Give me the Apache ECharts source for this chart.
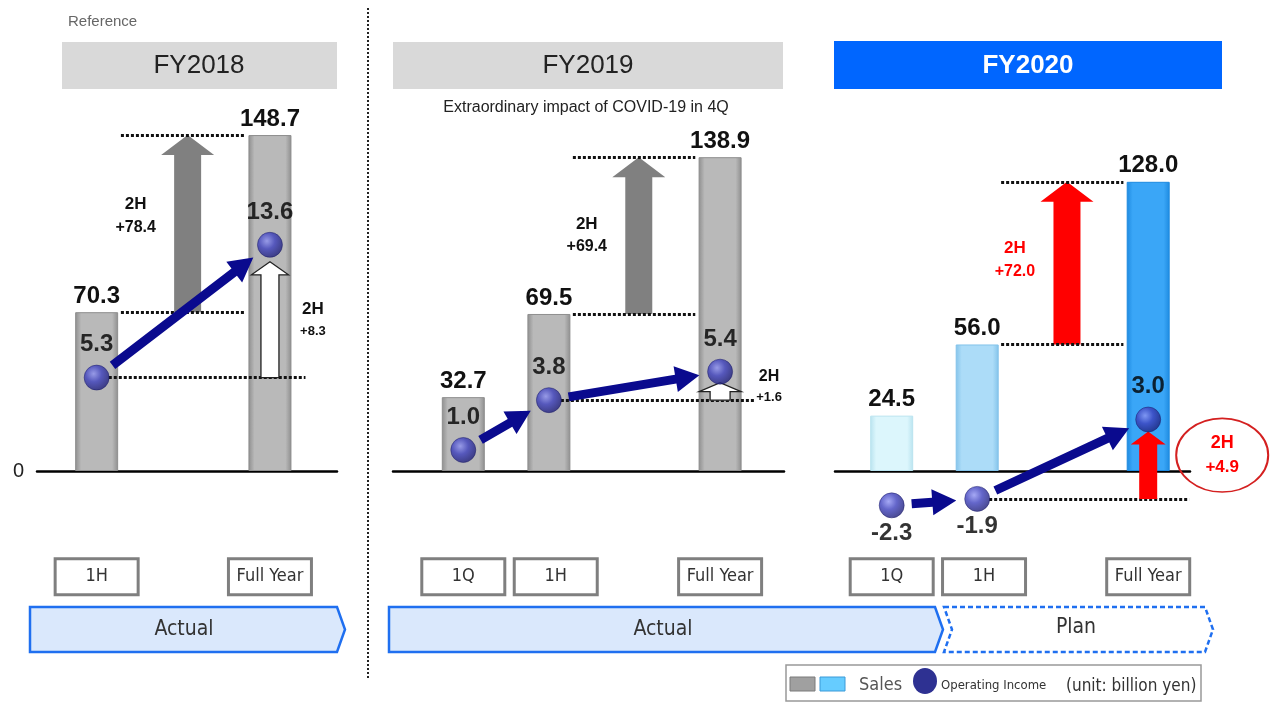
<!DOCTYPE html>
<html>
<head>
<meta charset="utf-8">
<script src="https://cdn.jsdelivr.net/npm/echarts@6/dist/echarts.min.js"></script>
<style>
  html, body { margin: 0; padding: 0; background: #fff; }
  #chart { width: 1274px; height: 703px; }
</style>
</head>
<body>
<div id="chart"></div>
<script>
// x position in each panel: 0 = 1Q, 1 = 1H, 2 = 2H (arrow slot), 3 = Full Year
const periodLabels = ['1Q', '1H', '2H', 'Full Year'];
const years = ['FY2018', 'FY2019', 'FY2020'];

// Sales (billion yen) [position, value]
const sales2018 = [[1, 70.3], [3, 148.7]];
const sales2019 = [[0, 32.7], [1, 69.5], [3, 138.9]];
const sales2020 = [[0, 24.5], [1, 56.0], [3, 128.0]];

// Operating income (billion yen) [position, value]
const income2018 = [[1, 5.3], [3, 13.6]];
const income2019 = [[0, 1.0], [1, 3.8], [3, 5.4]];
const income2020 = [[0, -2.3], [1, -1.9], [3, 3.0]];

// 2H increments shown next to the arrows
const salesIncrease = ['+78.4', '+69.4', '+72.0'];
const incomeIncrease = ['+8.3', '+1.6', '+4.9'];

const salesTicks = [0];

const sales = [sales2018, sales2019, sales2020];
const income = [income2018, income2019, income2020];

const FONT = "'Liberation Sans', Arial, sans-serif";
const NARROW = "'Liberation Sans Narrow', 'DejaVu Sans Condensed', 'Liberation Sans', sans-serif";

// layout of the three panels (pixels)
const GRID_TOP = 109.5, GRID_H = 406.7;
const layout = [
  { left: 37, right: 337, origin: 10, unit: 86.65, opZero: 462.4, opPx: 16.0 },
  { left: 393, right: 784, origin: 463.3, unit: 85.6, opZero: 467.8, opPx: 17.8 },
  { left: 835, right: 1190, origin: 891.7, unit: 85.5, opZero: 468.1, opPx: 16.2 }
];

// look of each panel
const looks = [
  {
    bars: [['#8e8e8e', '#b9b9b9'], ['#8e8e8e', '#b9b9b9']],
    salesArrow: '#808080', salesText: '#111',
    opArrow: { fill: '#fff', stroke: '#222', shaft: 18, head: 37, headLen: 13, gap: 17 },
    opText: { dx: 43, dy: 0, color: '#111', a: 17, b: 13 },
    salesLabel: { dy: -8 }
  },
  {
    bars: [['#8e8e8e', '#b9b9b9'], ['#8e8e8e', '#b9b9b9'], ['#8e8e8e', '#b9b9b9']],
    salesArrow: '#808080', salesText: '#111',
    opArrow: { fill: '#fff', stroke: '#222', shaft: 20, head: 42, headLen: 9, gap: 11 },
    opText: { dx: 49, dy: -5, color: '#111', a: 16, b: 13 },
    salesLabel: { dy: 0 }
  },
  {
    bars: [['#b9e3ef', '#dcf6fc'], ['#83c3ea', '#acdcf8'], ['#1d8ae0', '#3aa6f7']],
    salesArrow: '#ff0000', salesText: '#ff0000',
    opArrow: { fill: '#ff0000', stroke: null, shaft: 18, head: 35, headLen: 13, gap: 12 },
    opText: { dx: 74, dy: -10, color: '#ff0000', a: 18, b: 17, ring: true },
    salesLabel: { dy: -3 }
  }
];

function barFill(edge, mid) {
  return {
    type: 'linear', x: 0, y: 0, x2: 1, y2: 0,
    colorStops: [
      { offset: 0, color: edge },
      { offset: 0.14, color: mid },
      { offset: 0.86, color: mid },
      { offset: 1, color: edge }
    ]
  };
}

const dotFill = {
  type: 'radial', x: 0.38, y: 0.35, r: 0.7,
  colorStops: [
    { offset: 0, color: '#8f93f2' },
    { offset: 0.45, color: '#3d40bd' },
    { offset: 1, color: '#1b1b72' }
  ]
};

function valueAt(arr, pos) {
  const d = arr.find(function (x) { return x[0] === pos; });
  return d ? d[1] : null;
}

// block up arrow drawn from value(1) to value(2) at position value(0)
function upArrow(api, o, gapTop) {
  const base = api.coord([api.value(0), api.value(1)]);
  const tip = api.coord([api.value(0), api.value(2)]);
  const x = base[0], y0 = base[1], y1 = tip[1] + (gapTop || 0);
  const s = o.shaft / 2, h = o.head / 2, hy = y1 + o.headLen;
  return {
    type: 'polygon',
    shape: { points: [[x - s, y0], [x - s, hy], [x - h, hy], [x, y1], [x + h, hy], [x + s, hy], [x + s, y0]] },
    style: { fill: o.fill, stroke: o.stroke || null, lineWidth: o.stroke ? 1.3 : 0 }
  };
}

function twoLine(x, y, color, a, b, val) {
  return {
    type: 'text', x: x, y: y,
    style: {
      text: '{a|2H}\n{b|' + val + '}',
      align: 'center', verticalAlign: 'middle',
      rich: {
        a: { fontFamily: FONT, fontWeight: 'bold', fontSize: a, fill: color, lineHeight: a + 6 },
        b: { fontFamily: FONT, fontWeight: 'bold', fontSize: b, fill: color, lineHeight: b + 7 }
      }
    }
  };
}

const grids = [], xAxes = [], yAxes = [], series = [];

layout.forEach(function (L, p) {
  const look = looks[p];
  grids.push({ left: L.left, top: GRID_TOP, width: L.right - L.left, height: GRID_H, outerBoundsMode: 'none' });

  // period boxes under the bars; 1H box sits a little right when a 1Q box is next to it
  const positions = sales[p].map(function (d) { return d[0]; });
  const boxAt = positions.map(function (x) { return (x === 1 && positions.indexOf(0) >= 0) ? 1.08 : x; });

  xAxes.push({
    type: 'value', gridIndex: p,
    min: (L.left - L.origin) / L.unit, max: (L.right - L.origin) / L.unit,
    axisLine: { show: true, onZero: true, lineStyle: { color: '#000', width: 2.5 } },
    axisTick: { show: false },
    splitLine: { show: false },
    axisLabel: {
      show: true,
      customValues: boxAt,
      hideOverlap: false,
      showMinLabel: true, showMaxLabel: true,
      formatter: function (v) { return periodLabels[Math.round(v)]; },
      margin: 44,
      width: 80, height: 33, lineHeight: 33,
      backgroundColor: '#fff', borderColor: '#7f7f7f', borderWidth: 3,
      fontFamily: NARROW, fontSize: 18, color: '#333',
      align: 'center', verticalAlign: 'top'
    }
  });

  // sales axis
  yAxes.push({
    type: 'value', gridIndex: p, min: -20, max: 160,
    show: p === 0,
    axisLine: { show: false }, axisTick: { show: false }, splitLine: { show: false },
    axisLabel: { show: p === 0, customValues: salesTicks, margin: 13, fontSize: 20, color: '#222', fontFamily: FONT }
  });
  // operating income axis
  yAxes.push({
    type: 'value', gridIndex: p,
    min: -(GRID_TOP + GRID_H - L.opZero) / L.opPx,
    max: (L.opZero - GRID_TOP) / L.opPx,
    show: false, splitLine: { show: false }
  });

  const sIdx = 2 * p, oIdx = 2 * p + 1;
  const s1H = valueAt(sales[p], 1), sFY = valueAt(sales[p], 3);
  const o1H = valueAt(income[p], 1), oFY = valueAt(income[p], 3);

  // sales bars
  series.push({
    type: 'bar', name: 'Sales', xAxisIndex: p, yAxisIndex: sIdx,
    barWidth: 43, z: 2,
    data: sales[p].map(function (d, i) {
      return {
        value: d,
        itemStyle: { color: barFill(look.bars[i][0], look.bars[i][1]), borderColor: look.bars[i][0], borderWidth: 1 }
      };
    }),
    label: {
      show: true, position: 'top', distance: 4,
      formatter: function (prm) { return prm.value[1].toFixed(1); },
      fontFamily: FONT, fontWeight: 'bold', fontSize: 24, color: '#111'
    },
    markLine: {
      silent: true, symbol: ['none', 'none'], z: 3,
      label: { show: false },
      lineStyle: { color: '#111', type: [3, 2], width: 3 },
      data: [
        [{ coord: [1.28, s1H] }, { coord: [2.71, s1H] }],
        [{ coord: [1.28, sFY] }, { coord: [2.71, sFY] }]
      ]
    }
  });

  // 2H sales arrow
  series.push({
    type: 'custom', xAxisIndex: p, yAxisIndex: sIdx, z: 2,
    data: [[2.05, s1H, sFY]],
    renderItem: function (params, api) {
      const a = upArrow(api, { fill: look.salesArrow, shaft: 27, head: 53, headLen: 20 }, 0);
      const base = api.coord([api.value(0), api.value(1)]);
      const tip = api.coord([api.value(0), api.value(2)]);
      const mid = (base[1] + tip[1]) / 2 + look.salesLabel.dy;
      return {
        type: 'group',
        children: [a, twoLine(base[0] - 52, mid, look.salesText, 17, 16, salesIncrease[p])]
      };
    }
  });

  // 2H operating income arrow
  series.push({
    type: 'custom', xAxisIndex: p, yAxisIndex: oIdx, z: 4,
    data: [[3, o1H, oFY]],
    renderItem: function (params, api) {
      const o = look.opArrow, t = look.opText;
      const base = api.coord([api.value(0), api.value(1)]);
      const tip = api.coord([api.value(0), api.value(2)]);
      const mid = (base[1] + tip[1] + o.gap) / 2 + t.dy;
      const kids = [upArrow(api, o, o.gap), twoLine(base[0] + t.dx, mid, t.color, t.a, t.b, incomeIncrease[p])];
      if (t.ring) {
        kids.push({
          type: 'circle', x: base[0] + t.dx, y: mid, scaleY: 0.8,
          shape: { cx: 0, cy: 0, r: 46 },
          style: { fill: 'none', stroke: '#d42020', lineWidth: 2 }
        });
      }
      return { type: 'group', children: kids };
    }
  });

  // connecting arrows between operating income points
  const links = [];
  for (let i = 0; i < income[p].length - 1; i++) {
    links.push([income[p][i][0], income[p][i][1], income[p][i + 1][0], income[p][i + 1][1]]);
  }
  series.push({
    type: 'custom', xAxisIndex: p, yAxisIndex: oIdx, z: 5,
    data: links,
    renderItem: function (params, api) {
      const a = api.coord([api.value(0), api.value(1)]);
      const b = api.coord([api.value(2), api.value(3)]);
      const dx = b[0] - a[0], dy = b[1] - a[1];
      const len = Math.sqrt(dx * dx + dy * dy);
      const ux = dx / len, uy = dy / len, nx = -uy, ny = ux;
      const sx = a[0] + ux * 20, sy = a[1] + uy * 20;
      const tx = b[0] - ux * 21, ty = b[1] - uy * 21;
      const hx = tx - ux * 24, hy = ty - uy * 24;
      const w = 4.5, hw = 13;
      return {
        type: 'polygon',
        shape: {
          points: [
            [sx + nx * w, sy + ny * w], [hx + nx * w, hy + ny * w], [hx + nx * hw, hy + ny * hw],
            [tx, ty],
            [hx - nx * hw, hy - ny * hw], [hx - nx * w, hy - ny * w], [sx - nx * w, sy - ny * w]
          ]
        },
        style: { fill: '#0a0a8e' }
      };
    }
  });

  // operating income points
  series.push({
    type: 'scatter', name: 'Operating Income', xAxisIndex: p, yAxisIndex: oIdx,
    symbolSize: 25, z: 6, clip: false,
    itemStyle: { color: dotFill, borderColor: '#1a1a66', borderWidth: 0.6 },
    data: income[p].map(function (d) {
      return {
        value: d,
        label: d[1] < 0 ? { position: 'bottom', distance: 3 } : { position: 'top', distance: 8 }
      };
    }),
    label: {
      show: true,
      formatter: function (prm) { return prm.value[1].toFixed(1); },
      fontFamily: FONT, fontWeight: 'bold', fontSize: 24, color: '#000'
    },
    markLine: {
      silent: true, symbol: ['none', 'none'], z: 3,
      label: { show: false },
      lineStyle: { color: '#111', type: [3, 2], width: 3 },
      data: [[{ coord: [1.14, o1H] }, { coord: [p === 2 ? 3.48 : 3.41, o1H] }]]
    }
  });
});

// decoration: headers, period bands, legend
function chevron(x0, x1, notch) {
  const y0 = 607, y1 = 652, ym = 629.5;
  const pts = [[x0, y0], [x1 - 8, y0], [x1, ym], [x1 - 8, y1], [x0, y1]];
  if (notch) pts.push([x0 + 8, ym]);
  return pts;
}

const graphics = [
  { type: 'text', left: 68, top: 14, style: { text: 'Reference', font: '15px ' + FONT, fill: '#666' } },
  { type: 'line', shape: { x1: 368, y1: 8, x2: 368, y2: 680 }, style: { stroke: '#222', lineWidth: 2, lineDash: [2, 2] } },

  { type: 'rect', shape: { x: 62, y: 42, width: 275, height: 47 }, style: { fill: '#d9d9d9' } },
  { type: 'text', x: 199, y: 66, style: { text: years[0], font: '26px ' + FONT, fill: '#222', align: 'center', verticalAlign: 'middle' } },
  { type: 'rect', shape: { x: 393, y: 42, width: 390, height: 47 }, style: { fill: '#d9d9d9' } },
  { type: 'text', x: 588, y: 66, style: { text: years[1], font: '26px ' + FONT, fill: '#222', align: 'center', verticalAlign: 'middle' } },
  { type: 'rect', shape: { x: 834, y: 41, width: 388, height: 48 }, style: { fill: '#0066ff' } },
  { type: 'text', x: 1028, y: 66, style: { text: years[2], font: 'bold 26px ' + FONT, fill: '#fff', align: 'center', verticalAlign: 'middle' } },
  { type: 'text', x: 586, y: 108, style: { text: 'Extraordinary impact of COVID-19 in 4Q', font: '16px ' + FONT, fill: '#222', align: 'center', verticalAlign: 'middle' } },

  { type: 'polygon', shape: { points: chevron(30, 345, false) }, style: { fill: '#dae8fc', stroke: '#1f6ff0', lineWidth: 2.5 } },
  { type: 'text', x: 184, y: 630, style: { text: 'Actual', font: '21px ' + NARROW, fill: '#333', align: 'center', verticalAlign: 'middle' } },
  { type: 'polygon', shape: { points: chevron(389, 943, false) }, style: { fill: '#dae8fc', stroke: '#1f6ff0', lineWidth: 2.5 } },
  { type: 'text', x: 663, y: 630, style: { text: 'Actual', font: '21px ' + NARROW, fill: '#333', align: 'center', verticalAlign: 'middle' } },
  { type: 'polygon', shape: { points: chevron(944, 1213, true) }, style: { fill: '#fff', stroke: '#1f6ff0', lineWidth: 2.5, lineDash: [5, 3] } },
  { type: 'text', x: 1076, y: 628, style: { text: 'Plan', font: '21px ' + NARROW, fill: '#333', align: 'center', verticalAlign: 'middle' } },

  { type: 'rect', shape: { x: 786, y: 665, width: 415, height: 36 }, style: { fill: '#fff', stroke: '#999', lineWidth: 1.5 } },
  { type: 'rect', shape: { x: 790, y: 677, width: 25, height: 14 }, style: { fill: '#a0a0a0', stroke: '#7a7a7a', lineWidth: 1 } },
  { type: 'rect', shape: { x: 820, y: 677, width: 25, height: 14 }, style: { fill: '#66ccff', stroke: '#3a9ad8', lineWidth: 1 } },
  { type: 'text', x: 859, y: 685, style: { text: 'Sales', font: '18px ' + NARROW, fill: '#555', verticalAlign: 'middle' } },
  { type: 'circle', x: 925, y: 681, scaleY: 1.08, shape: { cx: 0, cy: 0, r: 12 }, style: { fill: '#2e3192' } },
  { type: 'text', x: 941, y: 686, style: { text: 'Operating Income', font: '13px ' + NARROW, fill: '#333', verticalAlign: 'middle' } },
  { type: 'text', x: 1066, y: 687, style: { text: '(unit: billion yen)', font: '17px ' + NARROW, fill: '#333', verticalAlign: 'middle' } }
];

const myChart = echarts.init(document.getElementById('chart'));
myChart.setOption({
  animation: false,
  backgroundColor: '#fff',
  textStyle: { fontFamily: FONT },
  grid: grids,
  xAxis: xAxes,
  yAxis: yAxes,
  series: series,
  graphic: graphics
});
</script>
</body>
</html>
